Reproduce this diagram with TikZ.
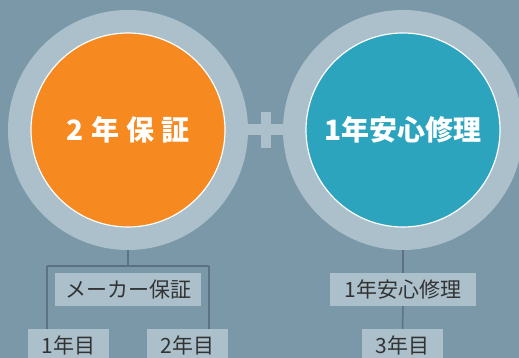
\documentclass[tikz,border=0pt]{standalone}
\usepackage{fontspec}
\newfontfamily\jp{Noto Sans CJK JP}
\definecolor{bgblue}{HTML}{7B98A8}
\definecolor{ringgray}{HTML}{ABC0CB}
\definecolor{warnorange}{HTML}{F68920}
\definecolor{repairteal}{HTML}{2CA4BE}
\definecolor{linegray}{HTML}{5C7282}
\definecolor{textdark}{HTML}{333333}
\begin{document}
\begin{tikzpicture}[x=1pt, y=-1pt,
    ring/.style={circle, fill=ringgray, minimum size=240pt, inner sep=0pt},
    disc/.style={circle, draw=white, line width=1.2pt, minimum size=194pt, inner sep=0pt,
      text=white, font=\jp\bfseries\fontsize{28}{30}\selectfont},
    tag/.style={fill=ringgray, text=textdark, minimum height=33pt, inner sep=0pt,
      font=\jp\fontsize{21}{23}\selectfont},
    link/.style={draw=linegray, line width=1.5pt}]
  \clip (0,0) rectangle (519,358);
  \fill[bgblue] (0,0) rectangle (519,358);
  % plus between the rings
  \fill[ringgray] (240,124) rectangle (290,135);
  \fill[ringgray] (261,112) rectangle (271,148);
  \node[ring] (ringL) at (128,130) {};
  \node[ring] (ringR) at (403,130) {};
  \node[disc, fill=warnorange] (warranty) at (128,130) {2\hspace{7pt}年\hspace{7pt}保\hspace{7pt}証};
  \node[disc, fill=repairteal] (repairdisc) at (403,130) {1年安心修理};
  % labels
  \node[tag, minimum width=146pt] (maker) at (128,289.5) {メーカー保証};
  \node[tag, minimum width=81pt] (year1) at (68.5,345.5) {1年目};
  \node[tag, minimum width=81pt] (year2) at (187.5,345.5) {2年目};
  \node[tag, minimum width=146pt] (repair) at (403,289.5) {1年安心修理};
  \node[tag, minimum width=81pt] (year3) at (402.5,345.5) {3年目};
  % connectors
  \coordinate (forkL) at (128,266);
  \coordinate (legL) at (47,266);
  \coordinate (legR) at (209,266);
  \draw[link] (ringL.south) -- (forkL);
  \draw[link] (legL) -- (legR);
  \draw[link] (legL) -- (legL |- year1.north);
  \draw[link] (legR) -- (legR |- year2.north);
  \draw[link] (ringR.south) -- (repair.north);
  \draw[link] (repair.south) -- (year3.north);
\end{tikzpicture}
\end{document}
